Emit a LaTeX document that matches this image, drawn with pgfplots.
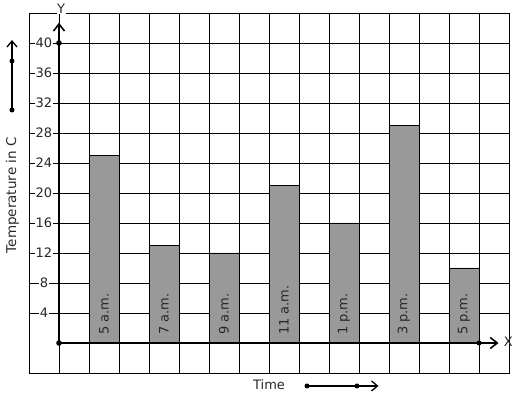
\documentclass[border=0pt]{standalone}
\usepackage{fontspec}
\setmainfont{DejaVu Sans}
\usepackage{pgfplots}
\pgfplotsset{compat=1.18}
\usetikzlibrary{arrows.meta}
\definecolor{barg}{RGB}{153,153,153}
\definecolor{lbl}{RGB}{40,40,40}
\tikzset{blab/.style={rotate=90, anchor=west, inner sep=0pt, font=\fontsize{13}{15}\selectfont, text=lbl}}
\begin{document}
\begin{tikzpicture}
\begin{axis}[
  scale only axis, width=480pt, height=360pt,
  xmin=-1, xmax=15, ymin=-4, ymax=44,
  xtick={0,...,14}, xticklabels={},
  ytick={4,8,...,40},
  major tick length=0pt,
  grid=major,
  grid style={black, line width=0.9pt},
  axis line style={black, line width=0.9pt},
  /pgf/number format/assume math mode=true,
  yticklabel style={anchor=center, xshift=15pt, fill=white, inner sep=0.5pt, font=\fontsize{13}{15}\selectfont, text=lbl},
  clip=false,
]
\addplot[ybar, bar width=1, fill=barg, draw=black, line width=0.9pt] coordinates {
  (1.5,25) (3.5,13) (5.5,12) (7.5,21) (9.5,16) (11.5,29) (13.5,10)
};
% axes
\draw[line width=2.3pt, -{Straight Barb[length=7pt, width=11pt, line width=1.6pt]}] (axis cs:0,0) -- (axis cs:0,42.7);
\draw[line width=2.3pt, -{Straight Barb[length=7pt, width=11pt, line width=1.6pt]}] (axis cs:0,0) -- (axis cs:14.65,0);
\fill (axis cs:0,0) circle (2.8pt);
\fill (axis cs:0,40) circle (2.8pt);
\fill (axis cs:14,0) circle (2.5pt);
\node[fill=white, inner sep=0.5pt, font=\fontsize{13}{15}\selectfont, text=lbl] at (axis cs:0.07,44.5) {Y};
\node[font=\fontsize{13}{15}\selectfont, text=lbl] at (axis cs:14.98,0.1) {X};
% bar labels
\node[blab] at (axis cs:1.5,1.05) {5 a.m.};
\node[blab] at (axis cs:3.5,1.05) {7 a.m.};
\node[blab] at (axis cs:5.5,1.05) {9 a.m.};
\node[blab] at (axis cs:7.5,1.05) {11 a.m.};
\node[blab] at (axis cs:9.5,1.05) {1 p.m.};
\node[blab] at (axis cs:11.5,1.05) {3 p.m.};
\node[blab] at (axis cs:13.5,1.05) {5 p.m.};
% axis labels and decorative arrows
\node[rotate=90, font=\fontsize{13.5}{15}\selectfont, text=lbl] at (axis cs:-1.55,19.7) {Temperature in C};
\node[font=\fontsize{13}{15}\selectfont, text=lbl] at (axis cs:7.0,-5.55) {Time};
\draw[line width=1.6pt, -{Straight Barb[length=6pt, width=10pt, line width=1.3pt]}] (axis cs:-1.567,31.07) -- (axis cs:-1.567,40.4);
\fill (axis cs:-1.567,31.07) circle (2.5pt);
\fill (axis cs:-1.567,37.6) circle (2.5pt);
\draw[line width=1.6pt, -{Straight Barb[length=6pt, width=10pt, line width=1.3pt]}] (axis cs:8.267,-5.73) -- (axis cs:10.65,-5.73);
\fill (axis cs:8.267,-5.73) circle (2.5pt);
\fill (axis cs:9.933,-5.73) circle (2.5pt);
\coordinate (bl) at (axis cs:-1.9667,-7.4667);
\coordinate (tr) at (axis cs:15.2667,45.7333);
\end{axis}
\pgfresetboundingbox
\useasboundingbox (bl) rectangle (tr);
\end{tikzpicture}
\end{document}
